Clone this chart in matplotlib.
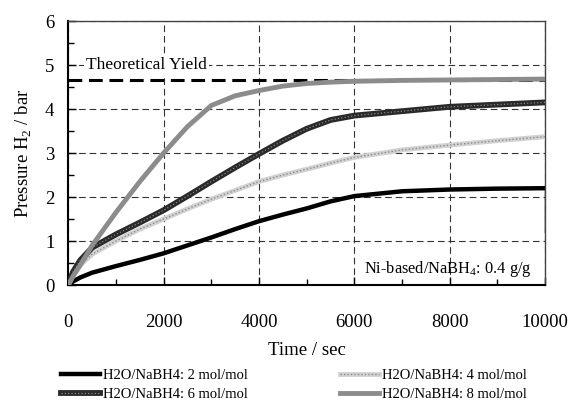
import matplotlib
matplotlib.use("Agg")
import matplotlib.pyplot as plt
from matplotlib.ticker import MultipleLocator
from matplotlib.legend_handler import HandlerTuple

plt.rcParams['font.family'] = ['Liberation Serif', 'DejaVu Serif']
plt.rcParams['mathtext.fontset'] = 'custom'
plt.rcParams['mathtext.rm'] = 'Liberation Serif'

time = [0, 100, 250, 500, 1000, 1500, 2000, 2500, 3000, 3500, 4000, 4500,
        5000, 5500, 6000, 7000, 8000, 9000, 10000]
p_2mol = [0, 0.08, 0.17, 0.28, 0.43, 0.57, 0.72, 0.90, 1.08, 1.27, 1.45, 1.60,
          1.74, 1.90, 2.02, 2.13, 2.17, 2.19, 2.20]
p_4mol = [0, 0.22, 0.45, 0.70, 1.00, 1.27, 1.50, 1.73, 1.95, 2.15, 2.35, 2.50,
          2.63, 2.77, 2.90, 3.07, 3.18, 3.28, 3.37]
p_6mol = [0, 0.30, 0.56, 0.85, 1.15, 1.42, 1.70, 2.02, 2.35, 2.67, 2.98, 3.28,
          3.55, 3.75, 3.85, 3.95, 4.05, 4.10, 4.15]
p_8mol = [0, 0.20, 0.45, 0.90, 1.65, 2.35, 3.00, 3.60, 4.08, 4.30, 4.42, 4.52,
          4.58, 4.61, 4.63, 4.65, 4.66, 4.67, 4.68]
drop_t = [10000, 10000]
drop_p = [2.20, 1.20]
theoretical_yield = 4.67
labels = ["H2O/NaBH4: 2 mol/mol", "H2O/NaBH4: 4 mol/mol",
          "H2O/NaBH4: 6 mol/mol", "H2O/NaBH4: 8 mol/mol"]

fig = plt.figure(figsize=(5.68, 4.01), dpi=100)
ax = fig.add_axes([68.3/568, 1-285/401, (545-68.3)/568, (285-21)/401])

ax.set_xlim(0, 10000)
ax.set_ylim(0, 6)
ax.xaxis.set_major_locator(MultipleLocator(2000))
ax.xaxis.set_minor_locator(MultipleLocator(1000))
ax.yaxis.set_major_locator(MultipleLocator(1))
ax.yaxis.set_minor_locator(MultipleLocator(0.5))
ax.grid(True, which='major', color='#333333', linestyle=(0, (6, 3.5)), linewidth=0.8)
ax.tick_params(which='both', direction='in', labelsize=13.5, width=1.0, color='black')
ax.tick_params(which='major', length=6)
ax.tick_params(which='minor', length=4)
ax.tick_params(axis='x', pad=21)
ax.tick_params(axis='y', pad=10)
for s in ['left', 'bottom']:
    ax.spines[s].set_linewidth(1.5)
for s in ['top', 'right']:
    ax.spines[s].set_linewidth(1.0)
    ax.spines[s].set_color('#444444')

# theoretical yield
ax.plot([0, 10000], [theoretical_yield, theoretical_yield], color='black',
        lw=2.2, linestyle=(0, (4.5, 2.2)), zorder=2)

# series
h2, = ax.plot(time, p_2mol, color='black', lw=3.2, zorder=3)
ax.plot(drop_t, drop_p, color='black', lw=1.0, zorder=3)
h4a, = ax.plot(time, p_4mol, color='#d2d2d2', lw=3.5, zorder=3)
h4b, = ax.plot(time, p_4mol, color='#8a8a8a', lw=1.0, linestyle=(0, (1, 1.5)), zorder=3)
h6a, = ax.plot(time, p_6mol, color='#2a2a2a', lw=4.2, zorder=3)
h6b, = ax.plot(time, p_6mol, color='#9a9a9a', lw=0.8, linestyle=(0, (1, 2)), zorder=3)
h8, = ax.plot(time, p_8mol, color='#8c8c8c', lw=3.5, zorder=4)

ax.text(380, 4.82, "Theoretical Yield", fontsize=12.5, ha='left', va='bottom',
        bbox=dict(facecolor='white', edgecolor='none', pad=1.5), zorder=5)
ax.text(9720, 0.28, "Ni-based/NaBH$_\\mathregular{4}$: 0.4 g/g", fontsize=11.8,
        ha='right', va='baseline', zorder=5)

ax.set_xlabel("Time / sec", fontsize=13.5, labelpad=8)
ax.set_ylabel("Pressure H$_\\mathregular{2}$ / bar", fontsize=13.5, labelpad=8)

handles = [h2, (h6a, h6b), (h4a, h4b), h8]
leg_labels = [labels[0], labels[2], labels[1], labels[3]]
fig.legend(handles, leg_labels, ncol=2, loc='upper left',
           bbox_to_anchor=(55/568, 1-363/401), frameon=False, fontsize=10.5,
           handlelength=2.7, handletextpad=0.2, columnspacing=6.3,
           labelspacing=0.4, borderaxespad=0,
           handler_map={tuple: HandlerTuple(ndivide=1, pad=0)})

fig.savefig("out.png", dpi=100)
